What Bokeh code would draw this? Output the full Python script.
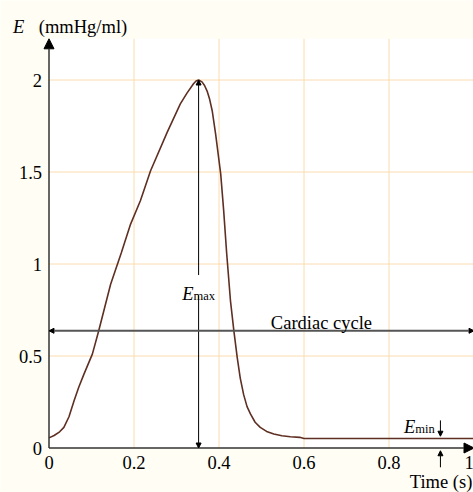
from bokeh.plotting import figure
from bokeh.models import Arrow, NormalHead, Label, ColumnDataSource, Range1d
from bokeh.core.properties import value
from bokeh.embed import file_html
from bokeh.resources import INLINE

# ---- data ----
time_s = [0.0, 0.012, 0.025, 0.035, 0.047, 0.059, 0.070, 0.082, 0.102, 0.117,
          0.145, 0.170, 0.192, 0.215, 0.239, 0.278, 0.309, 0.325, 0.340, 0.346,
          0.352, 0.360, 0.366, 0.372, 0.378, 0.384, 0.392, 0.404, 0.411, 0.418,
          0.427, 0.435, 0.443, 0.450, 0.458, 0.466, 0.474, 0.485, 0.497, 0.512,
          0.529, 0.548, 0.568, 0.590, 0.600, 0.700, 0.800, 0.900, 1.000]
elastance = [0.055, 0.068, 0.088, 0.112, 0.170, 0.257, 0.330, 0.400, 0.510, 0.637,
             0.890, 1.060, 1.217, 1.344, 1.507, 1.715, 1.870, 1.930, 1.980, 1.995,
             2.000, 1.990, 1.970, 1.940, 1.895, 1.833, 1.707, 1.490, 1.290, 1.060,
             0.800, 0.637, 0.490, 0.380, 0.290, 0.225, 0.185, 0.140, 0.112, 0.090,
             0.076, 0.067, 0.061, 0.058, 0.052, 0.052, 0.052, 0.052, 0.052]
x_ticks = [0, 0.2, 0.4, 0.6, 0.8, 1]
x_tick_labels = ["0", "0.2", "0.4", "0.6", "0.8", "1"]
y_ticks = [0, 0.5, 1, 1.5, 2]
y_tick_labels = ["0", "0.5", "1", "1.5", "2"]
cycle_level = 0.637
t_emin_mark = 0.921

# axis extents of the plotting area (white panel)
X_MAX = 1.0
Y_TOP = 2.224

FONT = "Liberation Serif"
FS = "18.5px"
SUB = "12.5px"
t_peak = time_s[elastance.index(max(elastance))]
e_peak = max(elastance)
e_min = min(elastance)

p = figure(width=473, height=492, output_backend="svg", toolbar_location=None,
           x_range=Range1d(-48.5 / 425, (473 - 48.5) / 425),
           y_range=Range1d(-(492 - 447.5) / 184, 447.5 / 184),
           min_border_left=0, min_border_right=0, min_border_top=0, min_border_bottom=0)
p.xaxis.visible = False
p.yaxis.visible = False
p.grid.visible = False
p.background_fill_color = "#fffdf4"
p.border_fill_color = "#fffdf4"
p.outline_line_color = None

# white plotting panel
p.quad(left=[0], right=[X_MAX], bottom=[0], top=[Y_TOP], fill_color="white", line_color=None)

# grid lines
gx = x_ticks[1:]
gy = y_ticks[1:]
p.segment(x0=gx, y0=[0] * len(gx), x1=gx, y1=[Y_TOP] * len(gx), line_color="#fbdcae", line_width=1)
p.segment(x0=[0] * len(gy), y0=gy, x1=[X_MAX] * len(gy), y1=gy, line_color="#fbdcae", line_width=1)

# curve
src = ColumnDataSource(dict(t=time_s, e=elastance))
p.line("t", "e", source=src, line_color="#5e2f22", line_width=1.6)

# tick labels
x_label_shift = [0, 0, 0, 0, 0, -5]
p.text(x=x_ticks, y=[0] * len(x_ticks), text=x_tick_labels, text_font=value(FONT), text_font_size=FS,
       text_align="center", text_baseline="middle", x_offset=x_label_shift, y_offset=14,
       text_color="black")
p.text(x=[0] * len(y_ticks), y=y_ticks, text=y_tick_labels, text_font=value(FONT), text_font_size=FS,
       text_align="right", text_baseline="middle", x_offset=-7, text_color="black")

head = dict(fill_color="black", line_color="black")
# axes with arrowheads
p.add_layout(Arrow(x_start=0, y_start=0, x_end=0, y_end=Y_TOP, line_color="#333333", line_width=1.5,
                   end=NormalHead(size=10, **head)))
p.add_layout(Arrow(x_start=0, y_start=0, x_end=X_MAX, y_end=0, line_color="#333333", line_width=1.5,
                   end=NormalHead(size=10, **head)))

# Emax double arrow (with gap for label)
p.add_layout(Arrow(x_start=t_peak, y_start=0.94, x_end=t_peak, y_end=e_peak, line_color="black",
                   line_width=1, end=NormalHead(size=5, **head)))
p.add_layout(Arrow(x_start=t_peak, y_start=0.83, x_end=t_peak, y_end=0.0, line_color="black",
                   line_width=1, end=NormalHead(size=5, **head)))
p.add_layout(Label(x=0.340, y=0.837, text="E", text_font=FONT, text_font_style="italic",
                   text_font_size=FS, text_align="right", text_baseline="alphabetic", text_color="black"))
p.add_layout(Label(x=0.340, y=0.828, text="max", text_font=FONT, text_font_size=SUB,
                   text_align="left", text_baseline="alphabetic", text_color="black"))

# cardiac cycle double arrow
p.add_layout(Arrow(x_start=0, y_start=cycle_level, x_end=X_MAX, y_end=cycle_level, line_color="#555555",
                   line_width=2, start=NormalHead(size=5, **head), end=NormalHead(size=5, **head)))
p.add_layout(Label(x=0.641, y=0.677, text="Cardiac cycle", text_font=FONT, text_font_size=FS,
                   text_align="center", text_baseline="alphabetic", text_color="black"))

# Emin marks
p.add_layout(Arrow(x_start=t_emin_mark, y_start=0.15, x_end=t_emin_mark, y_end=e_min + 0.012,
                   line_color="black", line_width=1, end=NormalHead(size=5, **head)))
p.add_layout(Arrow(x_start=t_emin_mark, y_start=-0.105, x_end=t_emin_mark, y_end=-0.015,
                   line_color="black", line_width=1, end=NormalHead(size=5, **head)))
p.add_layout(Label(x=0.862, y=0.112, text="E", text_font=FONT, text_font_style="italic",
                   text_font_size=FS, text_align="right", text_baseline="alphabetic", text_color="black"))
p.add_layout(Label(x=0.862, y=0.104, text="min", text_font=FONT, text_font_size=SUB,
                   text_align="left", text_baseline="alphabetic", text_color="black"))

# axis titles
p.add_layout(Label(x=-0.085, y=2.288, text="E", text_font=FONT, text_font_style="italic",
                   text_font_size=FS, text_align="left", text_baseline="alphabetic", text_color="black"))
p.add_layout(Label(x=-0.024, y=2.288, text="(mmHg/ml)", text_font=FONT, text_font_size=FS,
                   text_align="left", text_baseline="alphabetic", text_color="black"))
p.add_layout(Label(x=0.849, y=-0.183, text="Time (s)", text_font=FONT, text_font_size=FS,
                   text_align="left", text_baseline="alphabetic", text_color="black"))

open("out.html", "w").write(file_html(p, INLINE))
